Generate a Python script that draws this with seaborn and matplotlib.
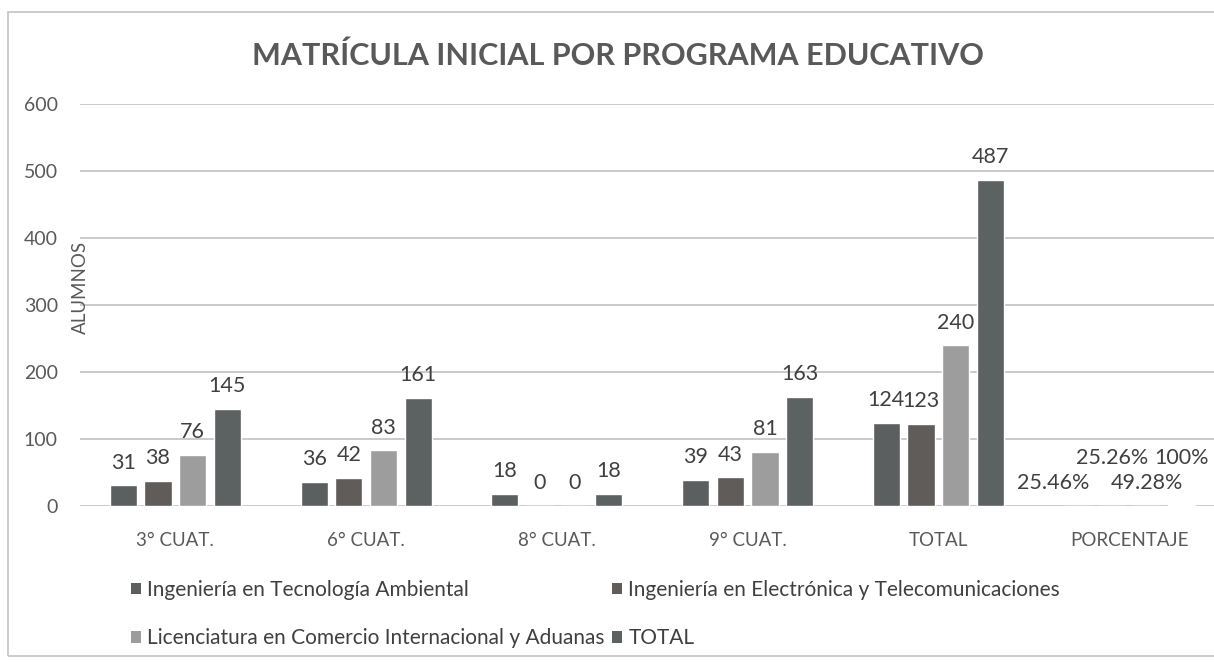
import matplotlib
matplotlib.use("Agg")
import matplotlib.pyplot as plt
import pandas as pd
import seaborn as sns
from matplotlib.patches import Patch, Rectangle

# Enrolment per programme and four-month period
categorias = ["3° CUAT.", "6° CUAT.", "8° CUAT.", "9° CUAT.", "TOTAL", "PORCENTAJE"]
programas = [
    "Ingeniería en Tecnología Ambiental",
    "Ingeniería en Electrónica y Telecomunicaciones",
    "Licenciatura en Comercio Internacional y Aduanas",
    "TOTAL",
]
tec_ambiental = [31, 36, 18, 39, 124, 0.2546]
electronica = [38, 42, 0, 43, 123, 0.2526]
comercio_int = [76, 83, 0, 81, 240, 0.4928]
total = [145, 161, 18, 163, 487, 1.0]
yticks = [0, 100, 200, 300, 400, 500, 600]

colores = ["#5b5f60", "#5f5c5a", "#9d9d9d", "#5c6162"]
texto = "#595959"

series = [tec_ambiental, electronica, comercio_int, total]
df = pd.DataFrame(
    [(c, p, v) for p, vals in zip(programas, series) for c, v in zip(categorias, vals)],
    columns=["categoria", "programa", "alumnos"],
)

sns.set_style("white")
plt.rcParams["font.family"] = ["Lato", "DejaVu Sans"]

fig = plt.figure(figsize=(12.14, 6.62), dpi=100, facecolor="white")
W, H = 1214, 662
ax = fig.add_axes([80 / W, 1 - 506 / H, 1144.5 / W, 402 / H])
ax.set_facecolor("none")

sns.barplot(
    data=df, x="categoria", y="alumnos", hue="programa",
    hue_order=programas, order=categorias, palette=colores,
    width=0.728, gap=0.22, saturation=1, legend=False, ax=ax,
)

ax.set_ylim(0, 600)
ax.set_yticks(yticks)
ax.set_xlim(-0.5, len(categorias) - 0.5)
ax.yaxis.grid(True, color="#c6c6c6", lw=1.3)
ax.xaxis.grid(False)
ax.set_axisbelow(True)
for s in ax.spines.values():
    s.set_visible(False)
ax.tick_params(axis="y", length=0, pad=16, labelsize=14, labelcolor=texto)
ax.tick_params(axis="x", length=0, pad=19, labelsize=13.5, labelcolor=texto)
ax.set_xlabel("")
ax.set_ylabel("")


def etiqueta(v, es_pct):
    if es_pct:
        return f"{v * 100:.2f}".rstrip("0").rstrip(".") + "%"
    return f"{v:.0f}"


# value labels above each bar; the percentage row is staggered so it stays readable
pct_offsets = [(-17, 0), (0, 18), (0, 0), (0, 18)]
for i, cont in enumerate(ax.containers):
    for j, bar in enumerate(cont):
        v = series[i][j]
        es_pct = categorias[j] == "PORCENTAJE"
        dx, dy = pct_offsets[i] if es_pct else (0, 0)
        cx = bar.get_x() + bar.get_width() / 2
        ax.annotate(
            etiqueta(v, es_pct), xy=(cx, bar.get_height()),
            xytext=(dx, 12 + dy), textcoords="offset points",
            ha="center", va="baseline", fontsize=15.5, color="#404040",
        )

fig.text(618 / W, 1 - 56 / H, "MATRÍCULA INICIAL POR PROGRAMA EDUCATIVO",
         ha="center", va="center", fontsize=22, fontweight="bold", color=texto)

fig.text(80 / W, 1 - 287 / H, "ALUMNOS", rotation=90, ha="center", va="center",
         fontsize=13.5, color=texto)

handles = [Patch(facecolor=c, edgecolor="none", label=p) for c, p in zip(colores, programas)]
order = [0, 2, 1, 3]
fig.legend(
    [handles[k] for k in order], [programas[k] for k in order],
    ncol=2, loc="upper left", bbox_to_anchor=(131 / W, 1 - 580 / H),
    frameon=False, fontsize=15, handlelength=0.48, handleheight=0.48,
    handletextpad=0.3, columnspacing=0.35, labelspacing=1.35, borderpad=0,
    borderaxespad=0, labelcolor="#404040",
)

# chart frame
fig.patches.append(Rectangle((8 / W, 1 - 656 / H), 1230 / W, 644 / H,
                             transform=fig.transFigure, fill=False,
                             edgecolor="#c4c4c4", lw=1.2))

fig.savefig("out.png", dpi=100, facecolor="white")
